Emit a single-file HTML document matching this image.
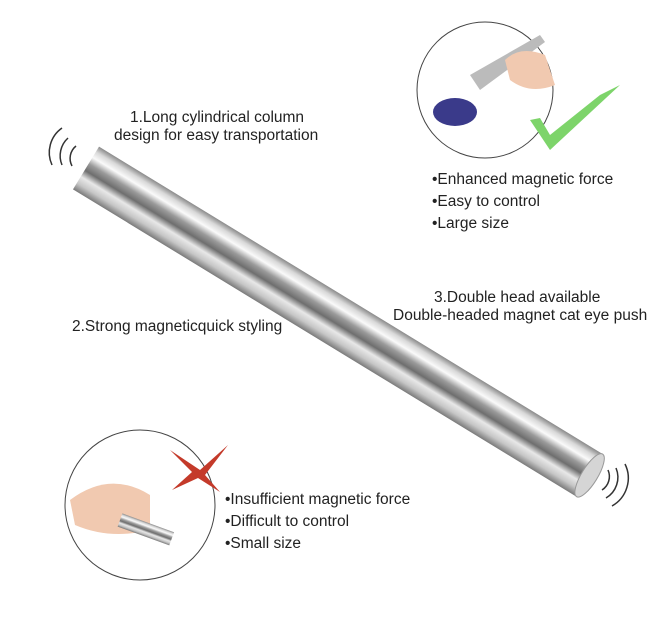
<!DOCTYPE html>
<html><head><style>
body{margin:0;background:#fff;width:656px;height:618px;overflow:hidden;font-family:"Liberation Sans",sans-serif;}
.t{position:absolute;font-size:15.5px;color:#222;white-space:nowrap;line-height:18px}
</style></head><body>
<svg width="656" height="618" style="position:absolute;left:0;top:0">
<defs>
<linearGradient id="rod" x1="0" y1="0" x2="0" y2="1">
<stop offset="0" stop-color="#8a8a8a"/><stop offset="0.12" stop-color="#d8d8d8"/>
<stop offset="0.25" stop-color="#fafafa"/><stop offset="0.4" stop-color="#9a9a9a"/>
<stop offset="0.55" stop-color="#6e6e6e"/><stop offset="0.7" stop-color="#e8e8e8"/>
<stop offset="0.85" stop-color="#c6c6c6"/><stop offset="1" stop-color="#7a7a7a"/>
</linearGradient>
</defs>
<g transform="translate(86,168) rotate(31.4)">
<rect x="0" y="-25" width="590" height="50" fill="url(#rod)"/>
<ellipse cx="590" cy="0" rx="8" ry="25" fill="#d5d5d5" stroke="#999"/>
</g>
<g fill="none" stroke="#333" stroke-width="1.5">
<path d="M62 128 A30 30 0 0 0 52 165"/><path d="M68 138 A24 24 0 0 0 62 165"/><path d="M76 146 A16 16 0 0 0 72 166"/>
<path d="M608 470 A16 16 0 0 1 602 490"/><path d="M616 468 A24 24 0 0 1 606 498"/><path d="M625 464 A32 32 0 0 1 612 506"/>
</g>
<circle cx="485" cy="90" r="68" fill="#fff" stroke="#444" stroke-width="1"/>
<path d="M470 75 L540 35 L545 42 L480 90Z" fill="#bbb"/>
<ellipse cx="455" cy="112" rx="22" ry="14" fill="#3a3a8a"/>
<path d="M505 60 Q520 45 545 55 L555 85 Q530 95 510 80Z" fill="#f1c9b0"/>
<path d="M530 120 L550 150 L620 85 L600 95 L550 135 L540 118Z" fill="#7dd46a"/>
<circle cx="140" cy="505" r="75" fill="#fff" stroke="#444" stroke-width="1"/>
<path d="M70 500 Q110 470 150 495 L150 530 Q110 540 75 525Z" fill="#f1c9b0"/>
<g transform="translate(120,520) rotate(20)"><rect x="0" y="-7" width="55" height="14" fill="url(#rod)"/></g>
<path d="M170 450 L200 470 L228 445 L205 475 L220 492 L198 478 L172 490 L192 472Z" fill="#c43a2a"/>
</svg>
<div class="t" style="left:130px;top:109px">1.Long cylindrical column</div>
<div class="t" style="left:114px;top:127px">design for easy transportation</div>
<div class="t" style="left:432px;top:171px">•Enhanced magnetic force</div>
<div class="t" style="left:432px;top:193px">•Easy to control</div>
<div class="t" style="left:432px;top:215px">•Large size</div>
<div class="t" style="left:434px;top:289px">3.Double head available</div>
<div class="t" style="left:393px;top:307px">Double-headed magnet cat eye push</div>
<div class="t" style="left:72px;top:318px">2.Strong magneticquick styling</div>
<div class="t" style="left:225px;top:491px">•Insufficient magnetic force</div>
<div class="t" style="left:225px;top:513px">•Difficult to control</div>
<div class="t" style="left:225px;top:535px">•Small size</div>
</body></html>
